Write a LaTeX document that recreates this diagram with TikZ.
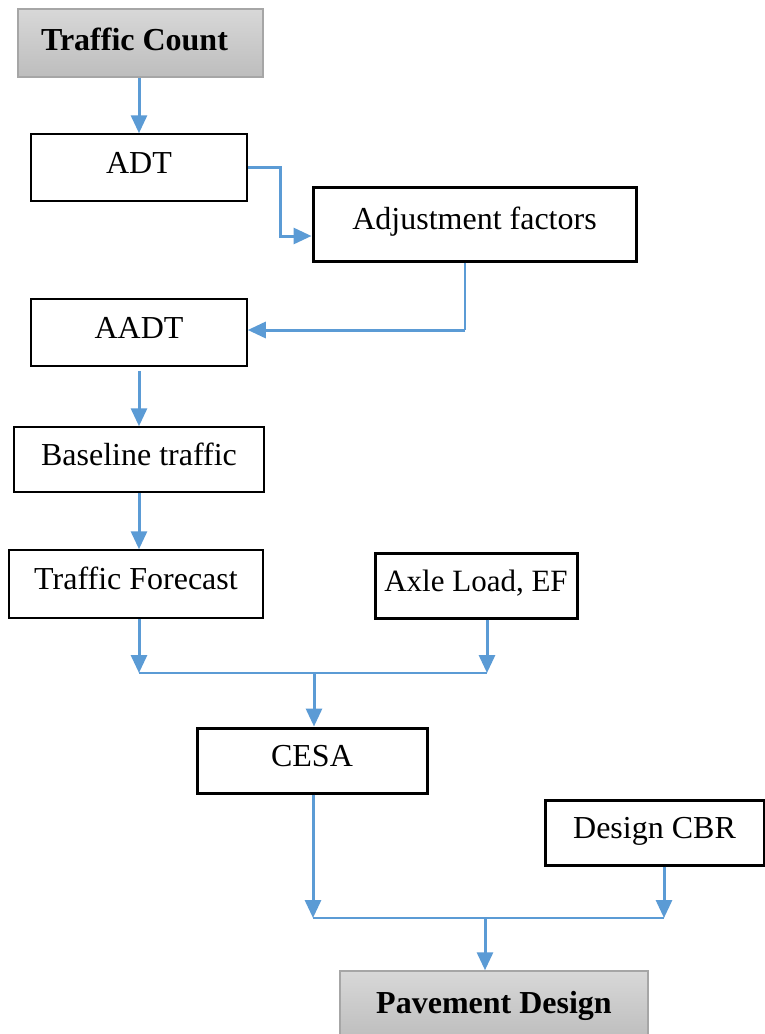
\documentclass[tikz,border=0pt]{standalone}
\usepackage{fontspec}
\setmainfont{Liberation Serif}
\usetikzlibrary{arrows.meta,calc}
\definecolor{flowblue}{HTML}{5B9BD5}
\definecolor{gtop}{HTML}{D8D8D8}
\definecolor{gbot}{HTML}{BDBDBD}
\definecolor{gborder}{HTML}{A6A6A6}
\tikzset{
  box/.style={rectangle, draw=black, line width=1.5pt, fill=white, inner sep=0pt,
    font=\fontsize{32}{36}\selectfont, text height=21pt, text depth=10pt},
  thickbox/.style={box, line width=3pt},
  graybox/.style={box, draw=gborder, line width=1.5pt, top color=gtop, bottom color=gbot,
    font=\fontsize{32}{36}\selectfont\bfseries, text depth=6pt},
  arr/.style={draw=flowblue, line width=3pt, -{Triangle[length=18pt,width=16pt]}},
  bar/.style={draw=flowblue, line width=1.4pt},
  thinline/.style={draw=flowblue, line width=1.1pt},
}
\begin{document}
\begin{tikzpicture}[x=1pt,y=-1pt]
\useasboundingbox[fill=white] (0,0) rectangle (765,1034);

\node[graybox, minimum width=245pt, minimum height=68pt] (tc) at (140.5,43) {Traffic Count\kern12pt};
\node[box, minimum width=216pt, minimum height=67pt] (adt) at (139,167.5) {ADT};
\node[thickbox, minimum width=323pt, minimum height=74pt] (adj) at (474.5,224) {Adjustment factors};
\node[box, minimum width=216pt, minimum height=67pt] (aadt) at (139,332.5) {AADT};
\node[box, minimum width=250pt, minimum height=65pt] (base) at (139,459.5) {Baseline traffic};
\node[box, minimum width=254pt, minimum height=68pt] (tf) at (136,584) {Traffic Forecast};
\node[thickbox, minimum width=202pt, minimum height=65pt, font=\fontsize{31}{35}\selectfont] (axle) at (476,585.5) {Axle Load, EF};
\node[thickbox, minimum width=230pt, minimum height=65pt] (cesa) at (312,760.5) {CESA};
\node[thickbox, minimum width=219pt, minimum height=65pt] (cbr) at (654.5,832.5) {Design CBR};
\node[graybox, minimum width=308pt, minimum height=69pt] (pd) at (494,1005.5) {Pavement Design};

\coordinate (k1) at (280,0);
\coordinate (c2) at (465,330);
\coordinate (b1L) at (139,673);
\coordinate (b1M) at (314,673);
\coordinate (b1R) at (487,673);
\coordinate (b2L) at (313,918);
\coordinate (b2M) at (485,918);
\coordinate (b2R) at (664,918);

\draw[arr] (adt.north |- tc.south) -- (adt.north);
\draw[arr] (adt.east) -- (adt.east -| k1) |- ([yshift=-12pt]adj.west);
\draw[thinline] (adj.south -| c2) -- (c2);
\draw[arr] (c2) -- (aadt.east |- c2);
\draw[arr, shorten <=4pt] (aadt.south) -- (aadt.south |- base.north);
\draw[arr] (base.south) -- (base.south |- tf.north);
\draw[arr] (tf.south -| b1L) -- (b1L);
\draw[arr] (axle.south -| b1R) -- (b1R);
\draw[bar] (b1L) -- (b1R);
\draw[arr] (b1M) -- (b1M |- cesa.north);
\draw[arr] (cesa.south -| b2L) -- (b2L);
\draw[arr] (cbr.south -| b2R) -- (b2R);
\draw[bar] (b2L) -- (b2R);
\draw[arr] (b2M) -- (b2M |- pd.north);
\end{tikzpicture}
\end{document}
